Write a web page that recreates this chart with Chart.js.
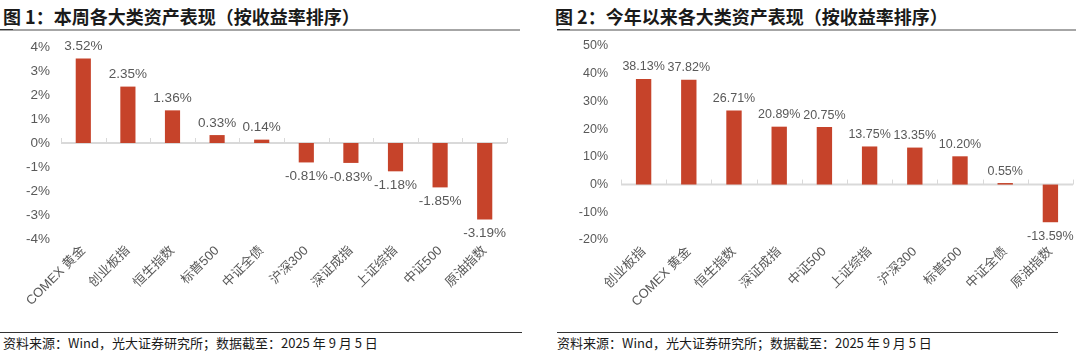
<!DOCTYPE html>
<html>
<head>
<meta charset="utf-8">
<script src="https://cdn.jsdelivr.net/npm/chart.js@4.4.1/dist/chart.umd.min.js"></script>
<style>
    body {
        margin: 0;
        width: 1080px;
        height: 352px;
        background: #fff;
        position: relative;
        overflow: hidden;
        font-family: "Noto Sans CJK SC", "Liberation Sans", sans-serif;
    }
    .title {
        position: absolute;
        top: 4px;
        font-size: 18px;
        line-height: 24px;
        font-weight: bold;
        color: #1a1a1a;
        white-space: nowrap;
    }
    .rule {
        position: absolute;
        top: 29px;
        height: 2px;
        background: #a6a6a6;
    }
    .rule-mark {
        position: absolute;
        top: 29px;
        height: 1px;
        width: 13px;
        background: #333;
    }
    .foot-line {
        position: absolute;
        top: 332px;
        height: 1px;
        background: #333;
    }
    .footer {
        position: absolute;
        top: 334px;
        font-size: 13px;
        line-height: 18px;
        color: #1a1a1a;
        white-space: nowrap;
    }
    .box {
        position: absolute;
        top: 34px;
        height: 296px;
    }
</style>
</head>
<body>
<div class="title" style="left:3px">图 1：本周各大类资产表现（按收益率排序）</div>
<div class="rule" style="left:0; width:520px"></div>
<div class="rule-mark" style="left:0"></div>
<div class="box" style="left:0; width:520px"><canvas id="weekChart"></canvas></div>
<div class="foot-line" style="left:0; width:522px"></div>
<div class="footer" style="left:3px">资料来源：Wind，光大证券研究所；数据截至：2025 年 9 月 5 日</div>

<div class="title" style="left:555px">图 2：今年以来各大类资产表现（按收益率排序）</div>
<div class="rule" style="left:557px; width:519px"></div>
<div class="rule-mark" style="left:557px"></div>
<div class="box" style="left:540px; width:540px"><canvas id="ytdChart"></canvas></div>
<div class="foot-line" style="left:557px; width:501px"></div>
<div class="footer" style="left:557px">资料来源：Wind，光大证券研究所；数据截至：2025 年 9 月 5 日</div>

<script>
// 图 1 本周
const weekLabels = ["COMEX 黄金", "创业板指", "恒生指数", "标普500", "中证全债", "沪深300", "深证成指", "上证综指", "中证500", "原油指数"];
const weekValues = [3.52, 2.35, 1.36, 0.33, 0.14, -0.81, -0.83, -1.18, -1.85, -3.19];
const weekTicks = [-4, -3, -2, -1, 0, 1, 2, 3, 4];

// 图 2 今年以来
const ytdLabels = ["创业板指", "COMEX 黄金", "恒生指数", "深证成指", "中证500", "上证综指", "沪深300", "标普500", "中证全债", "原油指数"];
const ytdValues = [38.13, 37.82, 26.71, 20.89, 20.75, 13.75, 13.35, 10.20, 0.55, -13.59];
const ytdTicks = [-20, -10, 0, 10, 20, 30, 40, 50];

const barColor = "#C6432A";
const textColor = "#595959";

Chart.defaults.font.family = '"Liberation Sans", "Noto Sans CJK SC", sans-serif';
Chart.defaults.font.size = 13;
Chart.defaults.color = textColor;

// zero line with small tick marks between categories
const zeroAxis = {
    id: "zeroAxis",
    beforeDatasetsDraw(chart) {
        const x = chart.scales.x;
        const y0 = chart.scales.y.getPixelForValue(0);
        const ctx = chart.ctx;
        const n = chart.data.labels.length;
        ctx.save();
        ctx.strokeStyle = "#d9d9d9";
        ctx.lineWidth = 2;
        ctx.beginPath();
        ctx.moveTo(x.left, y0);
        ctx.lineTo(x.right, y0);
        ctx.stroke();
        ctx.lineWidth = 1;
        for (let i = 0; i <= n; i++) {
            const px = Math.round(x.left + i * (x.width / n)) + 0.5;
            ctx.beginPath();
            ctx.moveTo(px, y0);
            ctx.lineTo(px, y0 - 5);
            ctx.stroke();
        }
        ctx.restore();
    },
};

// value labels above / below bars
const valueLabels = {
    id: "valueLabels",
    afterDatasetsDraw(chart, args, opts) {
        const ctx = chart.ctx;
        const meta = chart.getDatasetMeta(0);
        const values = chart.data.datasets[0].data;
        ctx.save();
        ctx.fillStyle = textColor;
        ctx.font = opts.size + 'px "Liberation Sans", sans-serif';
        ctx.textAlign = "center";
        ctx.textBaseline = "middle";
        meta.data.forEach((bar, i) => {
            const v = values[i];
            const y = v >= 0 ? bar.y - 12 : bar.y + 14;
            ctx.fillText(v.toFixed(2) + "%", bar.x, y);
        });
        ctx.restore();
    },
};

function makeChart(id, labels, values, ticks, yWidth, yPad, xHeight, padTop, padRight, fontSize) {
    const min = ticks[0];
    const max = ticks[ticks.length - 1];
    const step = ticks[1] - ticks[0];
    return new Chart(document.getElementById(id), {
        type: "bar",
        data: {
            labels: labels,
            datasets: [
                {
                    data: values,
                    backgroundColor: barColor,
                    borderWidth: 0,
                    categoryPercentage: 1,
                    barPercentage: 0.34,
                },
            ],
        },
        options: {
            responsive: true,
            maintainAspectRatio: false,
            animation: false,
            layout: {
                padding: { top: padTop, right: padRight, left: 0, bottom: 0 },
            },
            plugins: {
                legend: { display: false },
                tooltip: { enabled: false },
                valueLabels: { size: fontSize },
            },
            scales: {
                x: {
                    grid: { display: false, drawTicks: false },
                    border: { display: false },
                    ticks: {
                        autoSkip: false,
                        minRotation: 45,
                        maxRotation: 45,
                        padding: 4,
                        color: textColor,
                    },
                    afterFit(scale) {
                        scale.height = xHeight;
                    },
                },
                y: {
                    min: min,
                    max: max,
                    grid: { display: false, drawTicks: false },
                    border: { display: false },
                    ticks: {
                        stepSize: step,
                        padding: yPad,
                        color: textColor,
                        font: { size: fontSize },
                        callback: function (value) {
                            return value + "%";
                        },
                    },
                    afterFit(scale) {
                        scale.width = yWidth;
                        // let layout.padding decide the top of the plot
                        scale.paddingTop = 0;
                        scale.paddingBottom = 0;
                    },
                },
            },
        },
        plugins: [zeroAxis, valueLabels],
    });
}

makeChart("weekChart", weekLabels, weekValues, weekTicks, 61, 11, 91, 13, 13, 13.5);
makeChart("ytdChart", ytdLabels, ytdValues, ytdTicks, 81, 13, 90, 12, 7, 12.5);
</script>
</body>
</html>
